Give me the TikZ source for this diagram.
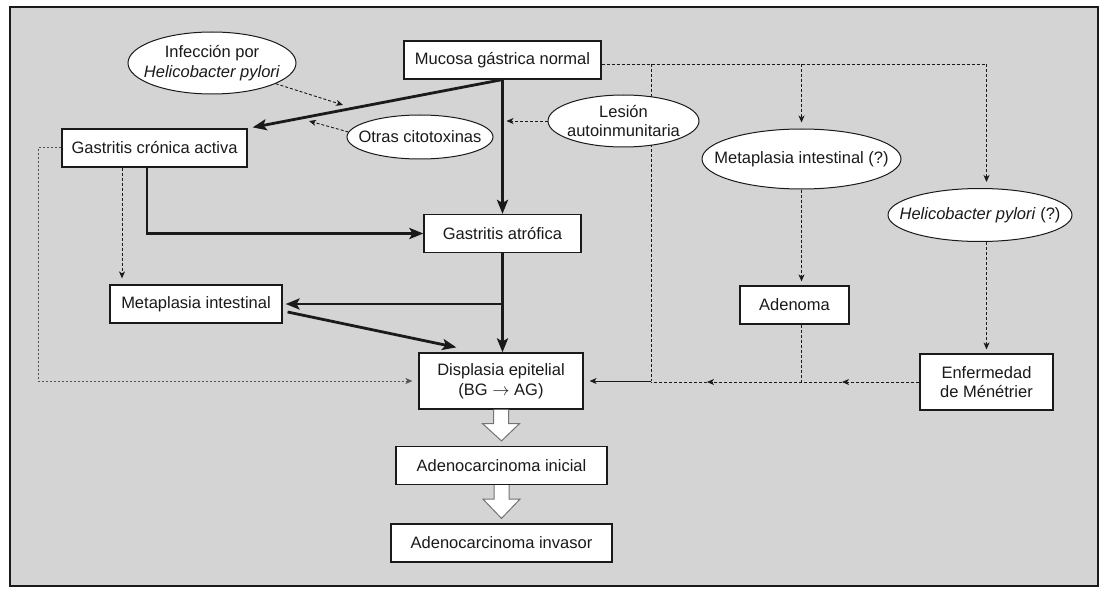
\documentclass[tikz,border=0pt]{standalone}
\usepackage{fontspec}
\setmainfont{Liberation Sans}
\usetikzlibrary{arrows.meta,calc,shapes.geometric}
\definecolor{bggray}{HTML}{D4D4D4}
\definecolor{ink}{HTML}{1A1A1A}
\newcommand\blkarr[2]{%
  \draw[blk] ($(#1.south)+(-7.5,0)$) -- ($(#1.south)+(-7.5,14)$) -- ($(#1.south)+(-18.5,14)$)
    -- ($(#2.north)+(0,-5)$) -- ($(#1.south)+(18.5,14)$) -- ($(#1.south)+(7.5,14)$) -- ($(#1.south)+(7.5,0)$);}
\begin{document}
\begin{tikzpicture}[x=1pt,y=-1pt,
  every node/.style={font=\fontsize{16.5}{19.5}\selectfont, inner sep=0pt, align=center, text=ink},
  box/.style={draw=ink, fill=white, line width=1.2pt, rectangle, minimum height=38pt},
  oval/.style 2 args={draw=ink, fill=white, line width=1pt, ellipse, minimum width=#1, minimum height=#2},
  thickarr/.style={line width=2.8pt, draw=ink, -{Stealth[length=14pt,width=11pt,inset=3pt]}},
  thinhead/.style={-{Stealth[length=7pt,width=6pt,inset=2pt]}},
  dashln/.style={draw=ink, line width=0.9pt, dash pattern=on 3pt off 2pt},
  dotln/.style={draw=gray!65!black, line width=1pt, dash pattern=on 2pt off 2pt},
  solidln/.style={draw=ink, line width=1pt},
  blk/.style={draw=gray!90!black, fill=white, line width=1pt}
]
\useasboundingbox (0,0) rectangle (1106,591);
\fill[white] (0,0) rectangle (1106,591);
\draw[line width=1.5pt, draw=ink, fill=bggray] (10,7) rectangle (1098,586);

% helper x positions
\coordinate (cx38) at (38,0);
\coordinate (cx122) at (122,0);
\coordinate (cx147) at (147,0);
\coordinate (cx651) at (651,0);
\coordinate (m1) at (842,0);
\coordinate (m2) at (707,0);
\coordinate (hp1) at (343,105);
\coordinate (hp2) at (309,121);

% boxes
\node[box, minimum width=197pt] (muc) at (502.5,60) {Mucosa gástrica normal};
\node[box, minimum width=185pt] (gca) at (154.5,148) {Gastritis crónica activa};
\node[box, minimum width=157pt] (gat) at (502.5,233.5) {Gastritis atrófica};
\node[box, minimum width=172pt] (mi) at (196,304) {Metaplasia intestinal};
\node[box, minimum width=164pt, minimum height=56pt] (dis) at (501,381) {Displasia epitelial\\(BG $\rightarrow$ AG)};
\node[box, minimum width=211pt] (aini) at (501.5,465.5) {Adenocarcinoma inicial};
\node[box, minimum width=221pt] (ainv) at (501.5,543) {Adenocarcinoma invasor};
\node[box, minimum width=109pt] (ade) at (794.5,305) {Adenoma};
\node[box, minimum width=133pt, minimum height=56pt] (enf) at (986.5,382) {Enfermedad\\de Ménétrier};

\coordinate (hy) at ($(muc.east)+(0,4)$);
% line behind the "Lesión" ellipse
\draw[dashln] (hy -| cx651) -- (cx651 |- dis.east);

% ellipses
\node[oval={168pt}{62pt}] (inf) at (212,63) {};
\node (inft) at (inf) {Infección por\\\textit{Helicobacter pylori}};
\node[oval={146pt}{44pt}] (otr) at (420,137) {};
\node (otrt) at (otr) {Otras citotoxinas};
\node[oval={151pt}{52pt}] (les) at (623.5,121) {};
\node (lest) at (les) {Lesión\\autoinmunitaria};
\node[oval={199pt}{60pt}] (metq) at (801.5,159) {};
\node (metqt) at (metq) {Metaplasia intestinal (?)};
\node[oval={184pt}{53pt}] (helq) at (980,215) {};
\node (helqt) at (helq) {\textit{Helicobacter pylori} (?)};

% thick arrows
\draw[thickarr] (muc.south) -- ($(gca.north east)+(5,-1)$);
\draw[thickarr] (muc.south) -- (gat.north);
\draw[thickarr] (gca.south -| cx147) -- (cx147 |- gat.west) -- (gat.west);
\draw[thickarr] (gat.south) -- (gat.south |- dis.north);
\draw[thickarr] (gat.south |- mi.east) -- ($(mi.east)+(3,0)$);
\draw[thickarr] ($(mi.east)+(5,8)$) -- ($(dis.north west)+(38,-5)$);

% thin dashed arrows, left part
\draw[dashln, thinhead] (inf.-18) -- (hp1);
\draw[dashln, thinhead] (otr.176) -- (hp2);
\draw[dashln, thinhead] (les.west) -- ($(les.west -| muc.south)+(4,0)$);
\draw[dashln, thinhead] (gca.south -| cx122) -- ($(mi.north -| cx122)+(0,-6)$);
\draw[dotln, thinhead] (gca.west) -- (gca.west -| cx38) -- (cx38 |- dis.west) -- ($(dis.west)+(-6,0)$);

% right part
\draw[dashln] (muc.east |- hy) -- (hy);
\draw[dashln, thinhead] (hy) -- (hy -| enf.north) -- ($(enf.north |- helq.north)+(0,-6)$);
\draw[dashln, thinhead] (hy -| metq.north) -- ($(metq.north)+(0,-6)$);
\draw[solidln, thinhead] (cx651 |- dis.east) -- ($(dis.east)+(6,0)$);
\draw[dashln, thinhead] (metq.south) -- ($(metq.south |- ade.north)+(0,-4)$);
\draw[dashln] (ade.south -| metq.south) -- (metq.south |- enf.west);
\draw[dashln, thinhead] (enf.north |- helq.south) -- ($(enf.north)+(0,-4)$);
\draw[dashln, thinhead] (enf.west) -- (m1 |- enf.west);
\draw[dashln, thinhead] (m1 |- enf.west) -- (m2 |- enf.west);
\draw[dashln] (m2 |- enf.west) -- (cx651 |- enf.west);

% block arrows
\blkarr{dis}{aini}
\blkarr{aini}{ainv}
\end{tikzpicture}
\end{document}
